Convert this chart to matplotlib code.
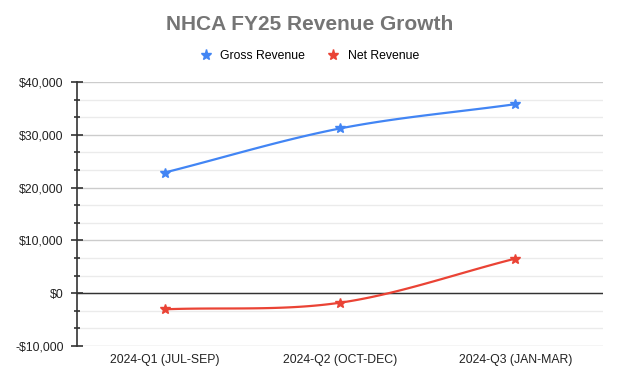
import numpy as np
import matplotlib
matplotlib.use("Agg")
import matplotlib.pyplot as plt
from matplotlib.lines import Line2D
from matplotlib.ticker import MultipleLocator, FuncFormatter

plt.rcParams['font.family'] = ['Liberation Sans', 'DejaVu Sans']

categories = ["2024-Q1 (JUL-SEP)", "2024-Q2 (OCT-DEC)", "2024-Q3 (JAN-MAR)"]
gross_revenue = [22850, 31200, 35800]
net_revenue = [-3050, -1800, 6550]
series_names = ["Gross Revenue", "Net Revenue"]
colors = ["#4285F4", "#EA4335"]
title = "NHCA FY25 Revenue Growth"


def smooth(y, n=60, k=1.0):
    y = np.asarray(y, dtype=float)
    x = np.arange(len(y), dtype=float)
    m = np.zeros_like(y)
    m[0] = (y[1] - y[0])
    m[-1] = (y[-1] - y[-2])
    for i in range(1, len(y) - 1):
        m[i] = (y[i + 1] - y[i - 1]) / 2 * k
    xs, ys = [], []
    for i in range(len(y) - 1):
        t = np.linspace(0, 1, n)
        h00 = 2 * t**3 - 3 * t**2 + 1
        h10 = t**3 - 2 * t**2 + t
        h01 = -2 * t**3 + 3 * t**2
        h11 = t**3 - t**2
        xs.append(x[i] + t)
        ys.append(h00 * y[i] + h10 * m[i] + h01 * y[i + 1] + h11 * m[i + 1])
    return np.concatenate(xs), np.concatenate(ys)


fig = plt.figure(figsize=(6.19, 3.76), dpi=100)
ax = fig.add_axes([77 / 619, 1 - 346 / 376, 526 / 619, 264 / 376])

x = np.arange(len(categories))
for vals, c in zip([gross_revenue, net_revenue], colors):
    sx, sy = smooth(vals)
    ax.plot(sx, sy, color=c, lw=1.6, zorder=3, solid_capstyle='round')
    ax.plot(x, vals, ls='none', marker='*', ms=7, color=c, zorder=4)

ax.set_xlim(-0.5, 2.5)
ax.set_ylim(-10000, 40000)
ax.yaxis.set_major_locator(MultipleLocator(10000))
ax.yaxis.set_minor_locator(MultipleLocator(10000 / 3))
ax.yaxis.set_major_formatter(FuncFormatter(
    lambda v, p: ("-$" if v < 0 else "$") + f"{abs(int(round(v))):,}"))
ax.grid(axis='y', which='major', color='#cccccc', lw=1.0, zorder=0)
ax.grid(axis='y', which='minor', color='#ebebeb', lw=1.0, zorder=0)
ax.axhline(0, color='#333333', lw=1.0, zorder=2)

ax.set_xticks(x)
ax.set_xticklabels(categories)
ax.tick_params(axis='x', length=0, pad=6, labelsize=8.8, labelcolor='#222222')
ax.tick_params(axis='y', which='major', direction='inout', length=9,
               width=1.2, color='#333333', pad=5, labelsize=8.8, labelcolor='#222222')
ax.tick_params(axis='y', which='minor', direction='inout', length=5,
               width=1.2, color='#333333')

for s in ['top', 'right', 'bottom']:
    ax.spines[s].set_visible(False)
ax.spines['left'].set_color('#333333')
ax.spines['left'].set_linewidth(1.2)
ax.spines['left'].set_zorder(5)

fig.text(0.5, 1 - 25 / 376, title, ha='center', va='center',
         fontsize=15, fontweight='bold', color='#757575')

handles = [Line2D([], [], ls='none', marker='*', ms=8, color=c) for c in colors]
fig.legend(handles, series_names, loc='center', bbox_to_anchor=(0.5, 1 - 56 / 376),
           ncol=2, frameon=False, fontsize=8.8, handlelength=1.0,
           handletextpad=0.7, columnspacing=1.8, borderpad=0)

fig.savefig("out.png", dpi=100, facecolor='white')
